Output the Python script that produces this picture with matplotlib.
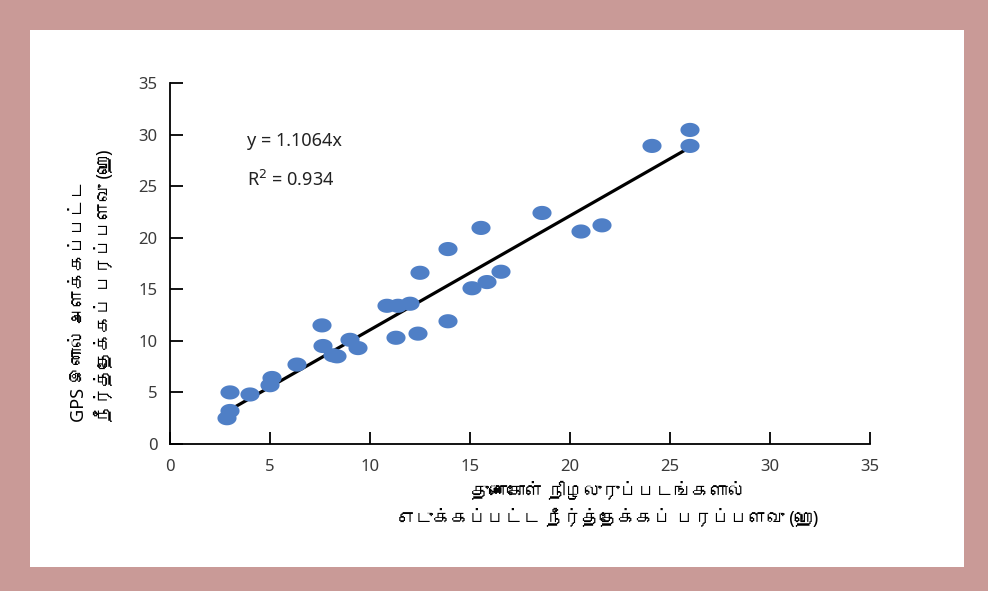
import matplotlib
matplotlib.use('Agg')
import matplotlib.pyplot as plt
from matplotlib import font_manager
from matplotlib.ft2font import FT2Font
from matplotlib.path import Path
from matplotlib.patches import Rectangle
import numpy as np

# satellite image area (x) vs GPS measured area (y), hectares
satArea = [2.85, 3.0, 3.0, 4.0, 5.1, 5.0, 6.35, 7.6, 7.65, 8.15, 8.35, 9.0, 9.4,
           10.85, 11.4, 12.0, 11.3, 12.4, 12.5, 13.9, 13.9, 15.1, 15.85, 16.55,
           15.55, 18.6, 20.55, 21.6, 24.1, 26.0, 26.0]
gpsArea = [2.5, 3.2, 5.0, 4.8, 6.4, 5.7, 7.7, 11.5, 9.5, 8.6, 8.5, 10.1, 9.3,
           13.4, 13.4, 13.6, 10.3, 10.7, 16.6, 18.9, 11.9, 15.1, 15.7, 16.7,
           20.95, 22.4, 20.6, 21.2, 28.9, 30.45, 28.9]
slope = 1.1064
r2 = 0.934
lineRange = [2.9, 26.0]
ticks = [0, 5, 10, 15, 20, 25, 30, 35]

xLabel = 'துணைகோள் நிழலுருப்படங்களால்\nஎடுக்கப்பட்ட நீர்த்தேக்கப் பரப்பளவு (ஹெ)'
yLabel = 'GPS இனால் அளக்கப்பட்ட\nநீர்த்தேக்கப் பரப்பளவு (ஹெ)'

# look for any installed font that has tamil letters
tamilFont = None
for f in font_manager.fontManager.ttflist:
    try:
        if 0x0BA4 in FT2Font(f.fname).get_charmap():
            tamilFont = f.name
            break
    except Exception:
        pass
labelFamily = ['Noto Sans'] + ([tamilFont] if tamilFont else []) + ['DejaVu Sans']

plt.rcParams['font.family'] = ['Noto Sans', 'DejaVu Sans']

fig = plt.figure(figsize=(9.88, 5.91), dpi=100)
fig.patch.set_facecolor('#c99a97')
fig.patches.append(Rectangle((30 / 988, 24 / 591), 934 / 988, 537 / 591,
                             transform=fig.transFigure, facecolor='white',
                             edgecolor='none', zorder=-5))

ax = fig.add_axes([170 / 988, 147 / 591, 700 / 988, 361 / 591])
ax.set_facecolor('none')

# ellipse marker
t = np.linspace(0, 2 * np.pi, 40)
ellipse = Path(np.column_stack([1.35 * np.cos(t), np.sin(t)]))

X = np.array(lineRange)
ax.plot(X, slope * X, color='black', linewidth=2.3, zorder=2)
ax.scatter(satArea, gpsArea, marker=ellipse, s=190, color='#4f7fc6',
           edgecolors='none', zorder=3)

ax.set_xlim(0, 35)
ax.set_ylim(0, 35)
ax.set_xticks(ticks)
ax.set_yticks(ticks)
ax.spines['top'].set_visible(False)
ax.spines['right'].set_visible(False)
ax.spines['left'].set_linewidth(1.3)
ax.spines['bottom'].set_linewidth(1.3)
ax.tick_params(direction='in', length=9, width=1.3, labelsize=12,
               labelcolor='#3a3a3a')
ax.tick_params(axis='x', pad=11)
ax.tick_params(axis='y', pad=9)

ax.text(3.85, 29.4, 'y = %.4fx' % slope, fontsize=13, va='center',
        color='#222222')
ax.text(3.85, 25.6, 'R$^2$ = %.3f' % r2, fontsize=13, va='center',
        color='#222222')

fig.text(608 / 988, 1 - 505 / 591, xLabel, ha='center', va='center',
         multialignment='center', fontsize=13, family=labelFamily,
         linespacing=1.5)
fig.text(92 / 988, 1 - 422 / 591, yLabel, ha='center', va='bottom',
         rotation=90, multialignment='left', fontsize=13, family=labelFamily,
         linespacing=1.5)

fig.savefig('out.png', dpi=100, facecolor=fig.get_facecolor())
